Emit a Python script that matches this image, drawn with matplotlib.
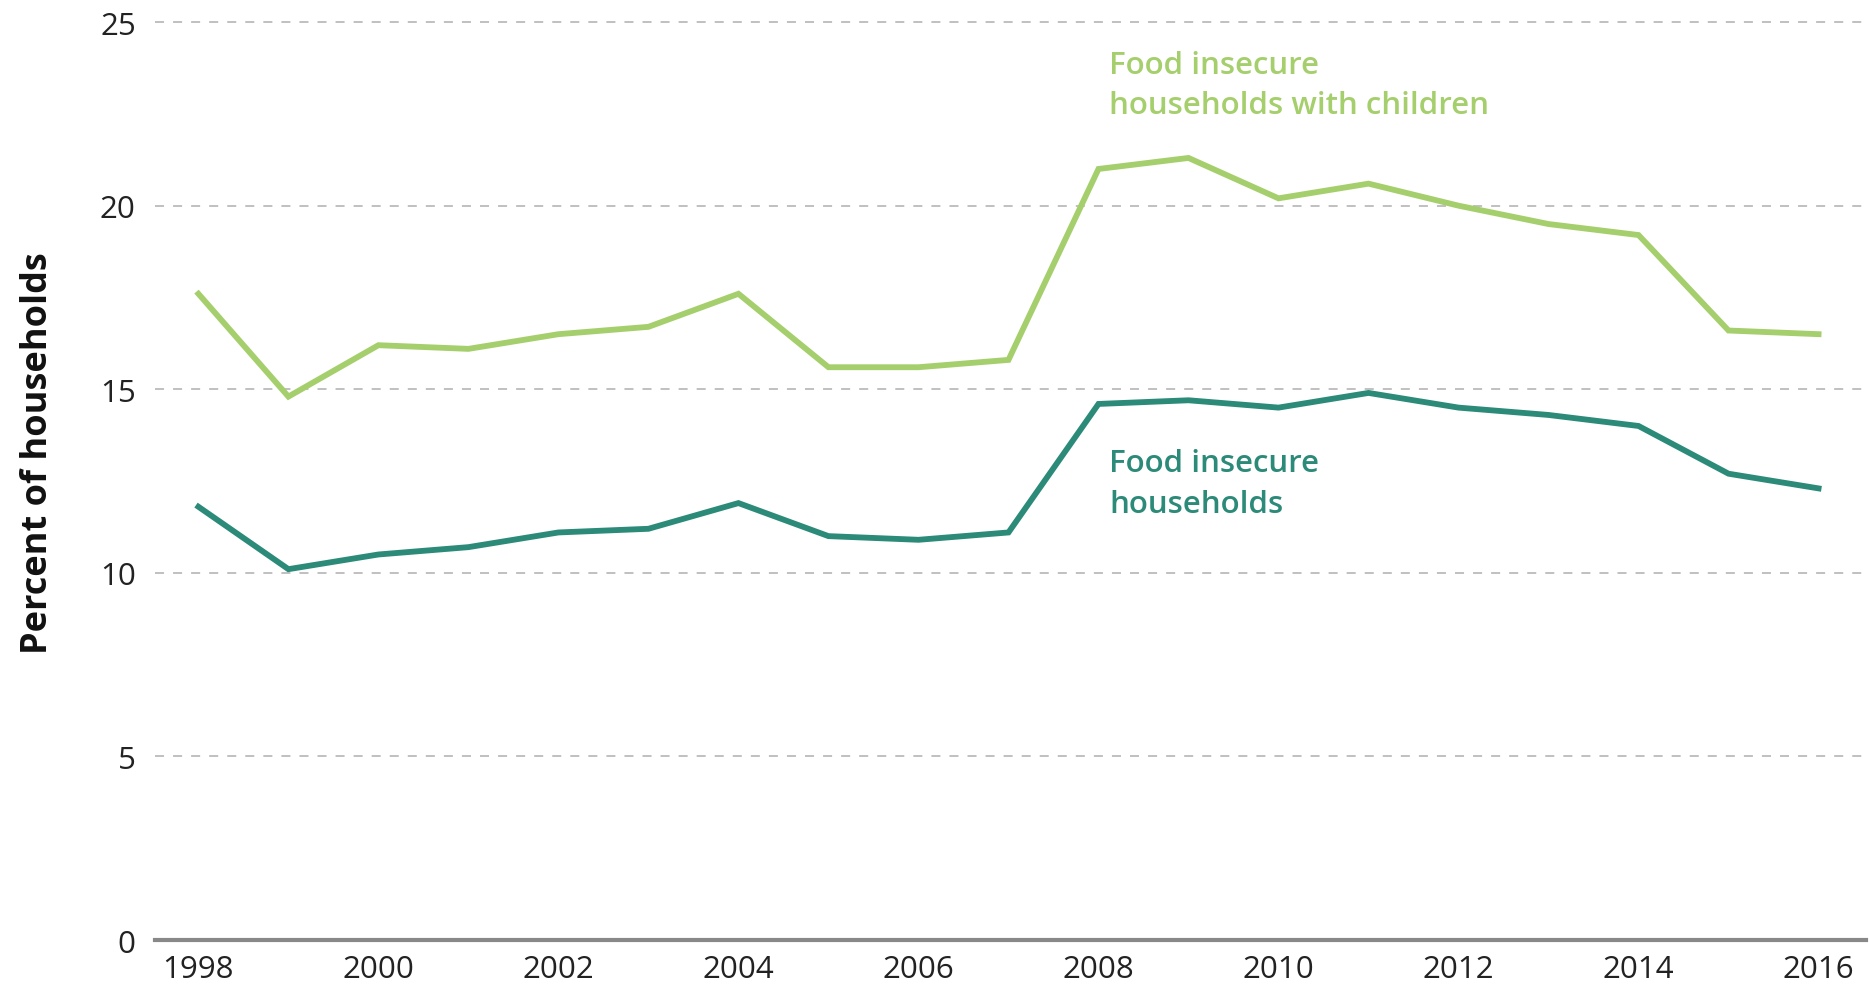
import matplotlib
matplotlib.use("Agg")
import matplotlib.pyplot as plt

years = list(range(1998, 2017))
with_children = [17.6, 14.8, 16.2, 16.1, 16.5, 16.7, 17.6, 15.6, 15.6, 15.8,
                 21.0, 21.3, 20.2, 20.6, 20.0, 19.5, 19.2, 16.6, 16.5]
all_households = [11.8, 10.1, 10.5, 10.7, 11.1, 11.2, 11.9, 11.0, 10.9, 11.1,
                  14.6, 14.7, 14.5, 14.9, 14.5, 14.3, 14.0, 12.7, 12.3]
x_ticks = list(range(1998, 2017, 2))
y_ticks = [0, 5, 10, 15, 20, 25]

light = '#a5cf6c'
dark = '#2c8a79'

plt.rcParams['font.family'] = ['Open Sans', 'DejaVu Sans']

fig = plt.figure(figsize=(18.7, 9.87), dpi=100)
ax = fig.add_axes([0.083, 0.0466, 0.915, 0.93])

ax.plot(years, with_children, color=light, lw=4.2, solid_joinstyle='miter')
ax.plot(years, all_households, color=dark, lw=4.2, solid_joinstyle='miter')

ax.set_xlim(1997.52, 2016.53)
ax.set_ylim(0, 25)
ax.set_xticks(x_ticks)
ax.set_yticks(y_ticks)

for y in y_ticks[1:]:
    ax.axhline(y, color='#bbbbbb', lw=1.3, ls=(0, (5, 5)), zorder=0, clip_on=False)

for s in ['top', 'right', 'left']:
    ax.spines[s].set_visible(False)
ax.spines['bottom'].set_color('#888888')
ax.spines['bottom'].set_linewidth(3)

ax.tick_params(axis='both', length=0, labelsize=22.5, colors='#222222')
ax.tick_params(axis='y', pad=14)
ax.tick_params(axis='x', pad=10)

ax.set_ylabel('Percent of households', fontsize=26, fontweight='bold', color='#111111')
ax.yaxis.set_label_coords(-0.058, 0.532)

ax.text(2008.12, 23.28, 'Food insecure\nhouseholds with children', color=light,
        fontsize=22.5, fontweight='semibold', va='center', ha='left', linespacing=1.45)
ax.text(2008.12, 12.43, 'Food insecure\nhouseholds', color=dark,
        fontsize=22.5, fontweight='semibold', va='center', ha='left', linespacing=1.45)

fig.savefig('out.png', dpi=100)
